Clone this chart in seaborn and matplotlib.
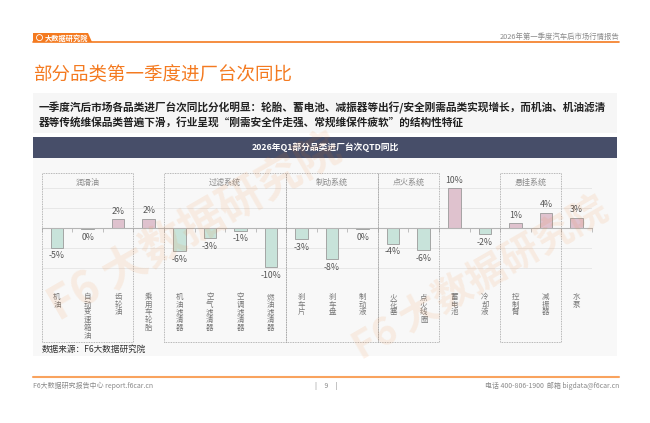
import numpy as np
import pandas as pd
import matplotlib
matplotlib.use("Agg")
import matplotlib.pyplot as plt
import seaborn as sns
from matplotlib.patches import Rectangle, Polygon
from matplotlib.transforms import blended_transform_factory

# ---------------- data ----------------
categories = ['机油', '自动变速箱油', '齿轮油', '乘用车轮胎', '机油滤清器', '空气滤清器',
              '空调滤清器', '燃油滤清器', '刹车片', '刹车盘', '制动液', '火花塞',
              '点火线圈', '蓄电池', '冷却液', '控制臂', '减振器', '水泵']
values = [-5.0, -0.3, 2.2, 2.3, -5.8, -2.6, -0.7, -9.8, -2.8, -7.8, -0.3, -3.9,
          -5.6, 9.9, -1.6, 1.2, 3.8, 2.6]
value_labels = ['-5%', '0%', '2%', '2%', '-6%', '-3%', '-1%', '-10%', '-3%', '-8%', '0%',
                '-4%', '-6%', '10%', '-2%', '1%', '4%', '3%']
group_names = ['润滑油', '过滤系统', '制动系统', '点火系统', '悬挂系统']
group_first = [0, 4, 8, 11, 15]
group_last = [2, 7, 10, 12, 16]

title = '部分品类第一季度进厂台次同比'
subtitle_lines = ['一季度汽后市场各品类进厂台次同比分化明显：轮胎、蓄电池、减振器等出行/安全刚需品类实现增长，而机油、机油滤清',
                  '器等传统维保品类普遍下滑，行业呈现“刚需安全件走强、常规维保件疲软”的结构性特征']
chart_title = '2026年Q1部分品类进厂台次QTD同比'

# ---------------- style ----------------
sns.set_theme(style='white')
plt.rcParams['font.family'] = ['Noto Sans CJK SC', 'DejaVu Sans']
plt.rcParams['axes.unicode_minus'] = False

W, H = 650, 423
fig = plt.figure(figsize=(W / 100, H / 100), dpi=100)
fig.patch.set_facecolor('white')

bg = fig.add_axes([0, 0, 1, 1], zorder=0)
bg.set_xlim(0, W)
bg.set_ylim(H, 0)
bg.axis('off')

ORANGE = '#f47a20'
# header
bg.add_patch(Polygon([(33, 33), (88, 33), (92, 42), (33, 42)], closed=True, fc=ORANGE, ec='none'))
bg.plot([33, 619], [42, 42], color=ORANGE, lw=1.2)
bg.text(45, 37.8, '大数据研究院', color='white', fontsize=5.2, fontweight='bold', va='center', ha='left')
bg.add_patch(plt.Circle((39.5, 37.6), 3.0, fc='none', ec='white', lw=0.6))
bg.text(619, 37, '2026年第一季度汽车后市场行情报告', color='#8a8a8a', fontsize=5.3, va='center', ha='right')

# title
bg.text(33, 75, title, color=ORANGE, fontsize=13.3, va='center', ha='left')

# subtitle box
bg.add_patch(Rectangle((33, 93), 584, 40, fc='#f6f6f6', ec='none'))
bg.text(39, 108, subtitle_lines[0], color='#222222', fontsize=7.7, fontweight='bold', va='center', ha='left')
bg.text(39, 122, subtitle_lines[1], color='#222222', fontsize=7.7, fontweight='bold', va='center', ha='left')

# chart title bar and background
bg.add_patch(Rectangle((33, 137), 584, 21, fc='#474e69', ec='none'))
bg.text(325, 147.5, chart_title, color='white', fontsize=6.3, fontweight='bold', va='center', ha='center')
bg.add_patch(Rectangle((33, 158), 584, 198, fc='#f8f8f8', ec='none'))

bg.text(42, 349, '数据来源：F6大数据研究院', color='#333333', fontsize=6.2, va='center', ha='left')

# footer
bg.plot([33, 619], [377, 377], color='#f9a35e', lw=1.5)
bg.text(33, 386, 'F6大数据研究报告中心 report.f6car.cn', color='#8a8a8a', fontsize=5.0, va='center', ha='left')
bg.text(326, 386, '|     9     |', color='#8a8a8a', fontsize=5.0, va='center', ha='center')
bg.text(619, 386, '电话 400-806-1900  邮箱 bigdata@f6car.cn', color='#8a8a8a', fontsize=5.0, va='center', ha='right')

# ---------------- main chart ----------------
x_left, x_right = 41.75, 591.75
y_top, y_bot = 168, 288
ax = fig.add_axes([x_left / W, (H - y_bot) / H, (x_right - x_left) / W, (y_bot - y_top) / H], zorder=2)
ax.patch.set_alpha(0)

df = pd.DataFrame({'cat': categories, 'val': values})
df['sign'] = np.where(df['val'] >= 0, 'pos', 'neg')
sns.barplot(data=df, x='cat', y='val', hue='sign', order=categories,
            palette={'pos': '#e4bdcd', 'neg': '#c4e7dc'}, dodge=False, width=0.41,
            edgecolor='#9a9a9a', linewidth=0.6, legend=False, ax=ax, zorder=3)

ax.set_xlim(-0.5, len(categories) - 0.5)
ax.set_ylim(-15, 15)
ax.set_yticks([-15, -10, -5, 5, 10])
ax.yaxis.grid(True, color='#e4e4e4', lw=0.6)
ax.set_axisbelow(True)
ax.tick_params(axis='y', length=0, labelleft=False)
for s in ['left', 'right', 'top']:
    ax.spines[s].set_visible(False)
ax.spines['bottom'].set_position(('data', 0))
ax.spines['bottom'].set_color('#b5b5b5')
ax.spines['bottom'].set_linewidth(0.8)
ax.spines['bottom'].set_zorder(4)
ax.set_xticks(np.arange(-0.5, len(categories), 1.0))
ax.set_xticklabels([])
ax.tick_params(axis='x', direction='out', length=3, width=0.6, color='#b5b5b5', bottom=True)
ax.set_xlabel('')
ax.set_ylabel('')

# value labels
for i, (v, lab) in enumerate(zip(values, value_labels)):
    if v >= 0:
        ax.annotate(lab, (i, v), xytext=(0, 2.5), textcoords='offset points', ha='center', va='bottom',
                    fontsize=6.3, color='#555555')
    else:
        ax.annotate(lab, (i, v), xytext=(0, -2.5), textcoords='offset points', ha='center', va='top',
                    fontsize=6.3, color='#555555')

trans = blended_transform_factory(ax.transData, ax.transAxes)
# category labels (vertical, stacked characters)
for i, c in enumerate(categories):
    ax.text(i, -0.042, '\n'.join(c), transform=trans, ha='center', va='top',
            fontsize=5.4, linespacing=0.95, color='#777777', clip_on=False)

# group boxes
box_bottom = (y_bot - 342) / (y_bot - y_top)
box_top = (y_bot - 173) / (y_bot - y_top)
for name, a, b in zip(group_names, group_first, group_last):
    ax.add_patch(Rectangle((a - 0.5, box_bottom), b - a + 1, box_top - box_bottom, transform=trans,
                           fill=False, ec='#a0a0a0', lw=0.6, ls=(0, (1, 1)), clip_on=False, zorder=5))
    ax.text((a + b) / 2, (y_bot - 182.5) / (y_bot - y_top), name, transform=trans, ha='center', va='center',
            fontsize=5.8, color='#8a8a8a', clip_on=False)

# watermark
wm = fig.add_axes([0, 0, 1, 1], zorder=6)
wm.set_xlim(0, W)
wm.set_ylim(H, 0)
wm.axis('off')
wm.patch.set_alpha(0)
for (cx, cy, fs) in [(195, 228, 32), (480, 278, 28)]:
    wm.text(cx, cy, 'F6 大数据研究院', color=ORANGE, alpha=0.10, fontsize=fs, fontweight='bold',
            rotation=30, ha='center', va='center')

fig.savefig('out.png', dpi=100, facecolor='white')
